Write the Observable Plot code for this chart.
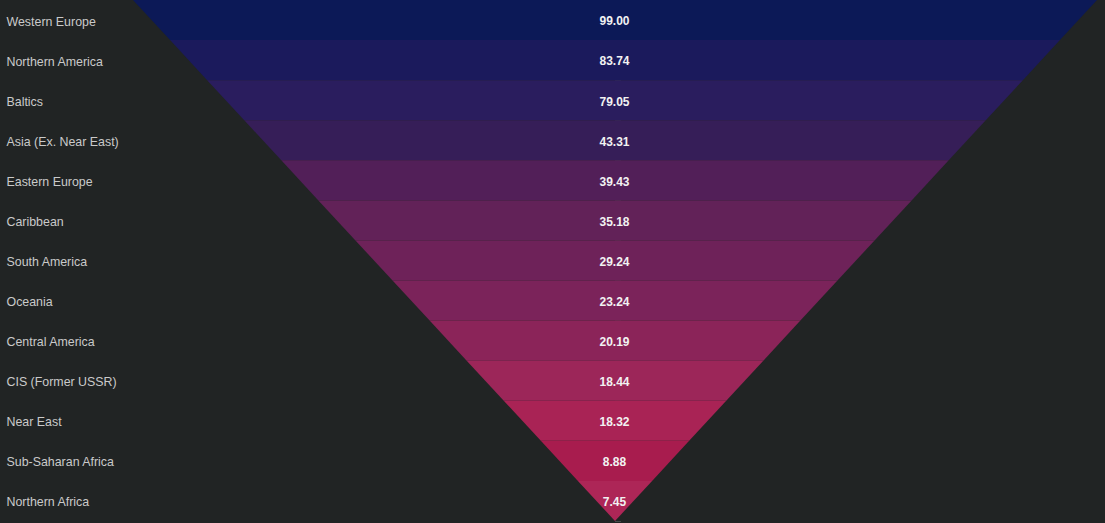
<!DOCTYPE html>
<html>
<head>
<meta charset="utf-8">
<script src="https://cdn.jsdelivr.net/npm/d3@7"></script>
<script src="https://cdn.jsdelivr.net/npm/@observablehq/plot@0.6"></script>
<style>
  html, body { margin: 0; padding: 0; background: #212424; }
  #chart svg { display: block; }
</style>
</head>
<body>
<div id="chart"></div>
<script>
const regions = ["Western Europe", "Northern America", "Baltics", "Asia (Ex. Near East)", "Eastern Europe", "Caribbean", "South America", "Oceania", "Central America", "CIS (Former USSR)", "Near East", "Sub-Saharan Africa", "Northern Africa"];
const values = [99.00, 83.74, 79.05, 43.31, 39.43, 35.18, 29.24, 23.24, 20.19, 18.44, 18.32, 8.88, 7.45];
const colors = ["#0c1957", "#1b1a5c", "#2a1d5e", "#361e58", "#521f58", "#622258", "#6e2259", "#7b235a", "#8b2459", "#9c2659", "#a92355", "#a81c4e", "#ad2657"];

const n = regions.length;
const rows = regions.map((r, i) => ({region: r, value: values[i], color: colors[i], i}));

// trapezoid corners for each band of the inverted triangle
const halfWidth = y => 1 - y / n;
const bandPts = rows.flatMap(d => [
  {i: d.i, color: d.color, y: d.i, x1: -halfWidth(d.i), x2: halfWidth(d.i)},
  {i: d.i, color: d.color, y: d.i + 1, x1: -halfWidth(d.i + 1), x2: halfWidth(d.i + 1)}
]);

const chart = Plot.plot({
  width: 1105,
  height: 523,
  margin: 0,
  style: {background: "#212424", fontFamily: "'Liberation Sans', Arial, sans-serif"},
  x: {domain: [-1, 1], range: [133, 1097], axis: null},
  y: {domain: [0, n], range: [0, 521], axis: null},
  marks: [
    Plot.ruleY(rows, {y: d => d.i + 1, x2: 0, insetLeft: 6, stroke: "#454949", strokeWidth: 1}),
    Plot.areaX(bandPts, {y: "y", x1: "x1", x2: "x2", z: "i", fill: "color", curve: "linear"}),
    Plot.text(rows, {y: d => d.i + 0.5, frameAnchor: "left", dx: 6, dy: 1, text: "region", fill: "#cacaca", fontSize: 12.4, textAnchor: "start"}),
    Plot.text(rows, {y: d => d.i + 0.5, x: 0, text: d => d.value.toFixed(2), fill: "#f2f2f2", fontSize: 12, fontWeight: "bold", dx: -1, dy: 1})
  ]
});
document.getElementById("chart").appendChild(chart);
</script>
</body>
</html>
